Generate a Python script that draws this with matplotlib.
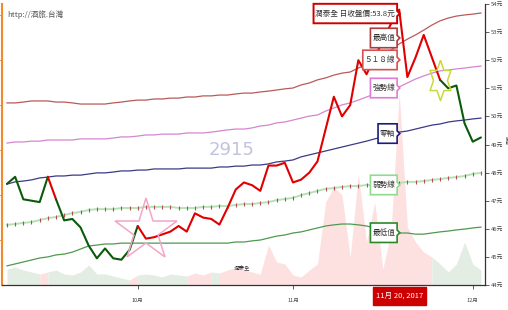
import numpy as np
import matplotlib
matplotlib.use("Agg")
import matplotlib.pyplot as plt
from matplotlib.path import Path

plt.rcParams['font.family'] = ['Noto Sans CJK TC', 'DejaVu Sans']

# ---------------- data (trading-day index 0..58, Sep 2017 .. Dec 4 2017) ----------------
month_tick_idx = [16, 35, 57]
month_labels = ['10月', '11月', '12月']

price = [47.60, 47.85, 47.05, 47.00, 46.95, 47.85, 47.05, 46.30, 46.35, 46.05,
         45.40, 44.95, 45.30, 44.95, 44.90, 45.25, 46.10, 45.65, 45.70, 45.80,
         45.90, 46.10, 45.90, 46.55, 46.40, 46.35, 46.15, 46.75, 47.40, 47.65,
         47.55, 47.35, 48.25, 48.25, 48.35, 47.65, 47.75, 48.00, 48.40, 49.55,
         50.70, 50.00, 50.40, 52.00, 51.50, 52.10, 52.70, 53.30, 53.80, 51.40,
         52.10, 52.90, 52.10, 51.30, 51.00, 51.10, 49.75, 49.10, 49.25]

# 1 = rising trend (red), 0 = falling (green) for segment i -> i+1
trend = [0, 0, 0, 0, 0, 1, 0, 0, 0, 0,
         0, 0, 0, 0, 0, 0, 1, 1, 1, 1,
         1, 1, 1, 1, 1, 1, 1, 1, 1, 1,
         1, 1, 1, 1, 1, 1, 1, 1, 1, 1,
         1, 1, 1, 1, 1, 1, 1, 1, 1, 1,
         1, 1, 1, 0, 0, 0, 0, 0]

top_line = [50.48, 50.48, 50.51, 50.55, 50.55, 50.55, 50.51, 50.51, 50.48, 50.44,
            50.44, 50.44, 50.44, 50.48, 50.51, 50.55, 50.58, 50.58, 50.62, 50.62,
            50.65, 50.65, 50.69, 50.69, 50.73, 50.73, 50.76, 50.76, 50.80, 50.83,
            50.83, 50.87, 50.90, 50.94, 50.98, 51.01, 51.12, 51.19, 51.30, 51.37,
            51.47, 51.54, 51.58, 51.72, 51.86, 52.01, 52.19, 52.36, 52.58, 52.75,
            52.90, 53.07, 53.25, 53.40, 53.50, 53.57, 53.61, 53.64, 53.68]

strong_line = [49.05, 49.09, 49.09, 49.12, 49.12, 49.16, 49.16, 49.16, 49.16, 49.20,
               49.20, 49.20, 49.20, 49.23, 49.27, 49.27, 49.30, 49.34, 49.34, 49.37,
               49.37, 49.37, 49.41, 49.41, 49.41, 49.44, 49.48, 49.52, 49.55, 49.55,
               49.59, 49.66, 49.69, 49.77, 49.80, 49.87, 49.94, 50.01, 50.05, 50.19,
               50.30, 50.41, 50.48, 50.58, 50.69, 50.80, 50.87, 50.94, 51.05, 51.19,
               51.33, 51.44, 51.54, 51.62, 51.65, 51.69, 51.72, 51.76, 51.79]

zero_line = [47.59, 47.67, 47.70, 47.74, 47.81, 47.84, 47.88, 47.88, 47.91, 47.91,
             47.95, 47.99, 47.99, 48.02, 48.06, 48.06, 48.09, 48.09, 48.13, 48.13,
             48.13, 48.13, 48.16, 48.16, 48.16, 48.16, 48.20, 48.20, 48.23, 48.23,
             48.27, 48.27, 48.31, 48.38, 48.41, 48.45, 48.56, 48.63, 48.70, 48.77,
             48.84, 48.91, 48.98, 49.05, 49.12, 49.20, 49.27, 49.37, 49.44, 49.48,
             49.55, 49.62, 49.69, 49.73, 49.80, 49.84, 49.87, 49.91, 49.94]

weak_line = [46.14, 46.17, 46.21, 46.24, 46.31, 46.38, 46.42, 46.49, 46.56, 46.60,
             46.67, 46.70, 46.70, 46.70, 46.74, 46.74, 46.74, 46.78, 46.78, 46.78,
             46.78, 46.74, 46.74, 46.74, 46.78, 46.78, 46.81, 46.81, 46.85, 46.88,
             46.88, 46.92, 46.95, 47.02, 47.06, 47.10, 47.20, 47.27, 47.35, 47.42,
             47.45, 47.49, 47.52, 47.52, 47.56, 47.56, 47.59, 47.59, 47.63, 47.67,
             47.67, 47.70, 47.74, 47.77, 47.81, 47.84, 47.88, 47.95, 47.99]

low_line = [44.68, 44.75, 44.82, 44.89, 44.96, 45.00, 45.07, 45.10, 45.17, 45.28,
            45.39, 45.42, 45.46, 45.46, 45.49, 45.49, 45.49, 45.49, 45.49, 45.49,
            45.49, 45.49, 45.49, 45.49, 45.49, 45.49, 45.49, 45.49, 45.53, 45.53,
            45.57, 45.60, 45.67, 45.74, 45.78, 45.85, 45.89, 45.96, 46.03, 46.10,
            46.14, 46.17, 46.17, 46.14, 46.10, 46.03, 45.96, 45.92, 45.85, 45.85,
            45.81, 45.81, 45.85, 45.89, 45.92, 45.96, 45.99, 46.03, 46.06]

volume = [1600, 1800, 1500, 1300, 1100, 1300, 1500, 1100, 1000, 1300,
          2000, 1100, 1100, 900, 700, 500, 1000, 1100, 1000, 800,
          1100, 1000, 900, 1200, 1000, 1300, 1200, 1500, 1700, 1500,
          1300, 1100, 4000, 2300, 2100, 1000, 800, 1500, 2100, 8300,
          9800, 9000, 2800, 11100, 4300, 8300, 1600, 5300, 19300, 5800,
          4300, 3300, 2800, 2100, 1300, 2100, 4300, 2100, 1500]

vol_up = [0, 0, 0, 0, 0, 1, 0, 0, 0, 0,
          0, 0, 0, 0, 0, 0, 1, 0, 0, 0,
          0, 0, 0, 1, 1, 1, 0, 1, 1, 1,
          1, 1, 1, 1, 1, 1, 1, 1, 1, 1,
          1, 1, 1, 1, 1, 1, 1, 1, 1, 1,
          1, 1, 1, 0, 0, 0, 0, 0, 0]

buy_signal = (17, 45.93)
sell_signal = (53, 51.30)
focus_idx = 48
focus_date = '11月 20, 2017'
stock_name = '潤泰全'
stock_code = '2915'

tip_texts = ['潤泰全 日收盤價:53.8元', '最高值', '５１８線', '強勢線', '零軸', '弱勢線', '最低值']
tip_colors = ['#cc0000', '#b03a3a', '#d85050', '#e07ad8', '#1c1c78', '#8fdc8f', '#2a8a2a']
tip_pos = [53.66, 52.79, 52.01, 51.01, 49.39, 47.56, 45.86]

# ---------------- figure ----------------
W, H = 508, 310
fig = plt.figure(figsize=(W / 100, H / 100), dpi=100)
fig.patch.set_facecolor('white')
ax_vol = fig.add_axes([2 / W, 25 / H, 483 / W, 281 / H])
ax = ax_vol.twinx()

n = len(price)
x = np.arange(n)


def runs(flags):
    out = []
    s = 0
    for i in range(1, len(flags) + 1):
        if i == len(flags) or flags[i] != flags[s]:
            out.append((s, i - 1, flags[s]))
            s = i
    return out


# volume area
seg_vol = [vol_up[j + 1] for j in range(n - 1)]
vol_arr = np.array(volume)
for s, e, f in runs(seg_vol):
    ax_vol.fill_between(x[s:e + 2], vol_arr[s:e + 2], 0,
                        color='#fde1e1' if f else '#e3ede3', lw=0)
ax_vol.set_ylim(0, 28100)
ax_vol.set_xlim(-0.61, 58.5)

# indicator lines
ax.plot(x, top_line, color='#b85a5a', lw=0.9, zorder=2)
ax.plot(x, strong_line, color='#d486cf', lw=0.9, zorder=2)
ax.plot(x, zero_line, color='#3a3a86', lw=0.9, zorder=2)
ax.plot(x, weak_line, color='#b5e2b5', lw=1.4, zorder=2)
ax.plot(x, weak_line, ls='none', marker='|', ms=2.2, mew=0.8, color='#b05050', zorder=2)
ax.plot(x, low_line, color='#4e9a4e', lw=0.9, zorder=2)

# price line
pr = np.array(price)
for s, e, f in runs(trend):
    ax.plot(x[s:e + 2], pr[s:e + 2], color='#e00000' if f else '#0a5a0a', lw=1.5,
            solid_joinstyle='round', solid_capstyle='round', zorder=5)

# signal stars
ax.plot([buy_signal[0]], [buy_signal[1]], marker='*', ms=47, mfc='none',
        mec='#f2a6c6', mew=1.1, zorder=6)
ang = np.pi / 2 + np.arange(12) * np.pi / 6
rad = np.where(np.arange(12) % 2 == 0, 1.0, 0.577)
hex_verts = list(zip(0.6 * rad * np.cos(ang), rad * np.sin(ang)))
hex_verts.append(hex_verts[0])
ax.plot([sell_signal[0]], [sell_signal[1]], marker=hex_verts, ms=29, mfc='none',
        mec='#c9d83a', mew=1.1, zorder=6)

ax.set_xlim(-0.61, 58.5)
ax.set_ylim(44, 54)

# axes styling
for sp in ['top', 'right']:
    ax_vol.spines[sp].set_visible(False)
ax_vol.spines['left'].set_color('#f08a2a')
ax_vol.spines['left'].set_linewidth(1.5)
ax_vol.spines['bottom'].set_color('#333333')
ax_vol.spines['bottom'].set_linewidth(0.9)
for sp in ['top', 'left', 'bottom']:
    ax.spines[sp].set_visible(False)
ax.spines['right'].set_color('#333333')
ax.spines['right'].set_linewidth(0.9)

ax_vol.set_xticks(month_tick_idx)
ax_vol.set_xticklabels(month_labels)
ax_vol.tick_params(axis='x', labelsize=4, length=3, width=0.6, colors='#444444', pad=6)
ax_vol.set_yticks([4500, 9000, 13500, 18000, 22500, 27000])
ax_vol.tick_params(axis='y', left=True, labelleft=False, length=3, width=0.6, color='#f08a2a')

ax.set_yticks(range(44, 55))
ax.set_yticklabels([f'{v}元' for v in range(44, 55)])
ax.tick_params(axis='y', labelsize=4.2, length=3, width=0.6, colors='#444444', pad=1.5)


def callout_style(padx, pady, ptr):
    def style(x0, y0, width, height, mutation_size):
        px = padx * mutation_size
        py = pady * mutation_size
        p = ptr * mutation_size
        x0 -= px
        y0 -= py
        x1 = x0 + width + 2 * px
        y1 = y0 + height + 2 * py
        ym = (y0 + y1) / 2
        if p > 0:
            verts = [(x0, y0), (x1, y0), (x1, ym - p), (x1 + p, ym), (x1, ym + p),
                     (x1, y1), (x0, y1), (x0, y0)]
        else:
            verts = [(x0, y0), (x1, y0), (x1, y1), (x0, y1), (x0, y0)]
        return Path(verts, closed=True)
    return style


for txt, col, ly in zip(tip_texts, tip_colors, tip_pos):
    ax.annotate(txt, xy=(focus_idx, ly), xytext=(-4, 0), textcoords='offset pixels',
                ha='right', va='center', fontsize=5.5, color='#333333',
                bbox=dict(boxstyle=callout_style(0.25, 0.75, 0.35), fc='white', ec=col,
                          lw=1.4 if col == '#cc0000' else 1.2),
                zorder=10, annotation_clip=False)

ax_vol.annotate(focus_date, xy=(focus_idx, 0), xycoords=('data', 'axes fraction'),
                xytext=(0, -11), textcoords='offset pixels', ha='center', va='center',
                fontsize=5.5, color='white',
                bbox=dict(boxstyle=callout_style(0.4, 0.7, 0), fc='#cc0000', ec='#cc0000'),
                annotation_clip=False)

fig.text(7 / W, 1 - 15 / H, 'http://酒旅.台灣', fontsize=5.5, color='#555555', va='center')
fig.text(232 / W, 1 - 150 / H, stock_code, fontsize=13, color='#c2c2de', ha='center',
         va='center', family=['Liberation Sans Narrow', 'DejaVu Sans'])
fig.text(242 / W, 1 - 267 / H, stock_name, fontsize=4, color='#333333', ha='center', va='center')
fig.text(506.5 / W, 1 - 140 / H, '股價', fontsize=3.2, color='#444444', rotation=270,
         ha='center', va='center')

fig.savefig('out.png', dpi=100, facecolor='white')
